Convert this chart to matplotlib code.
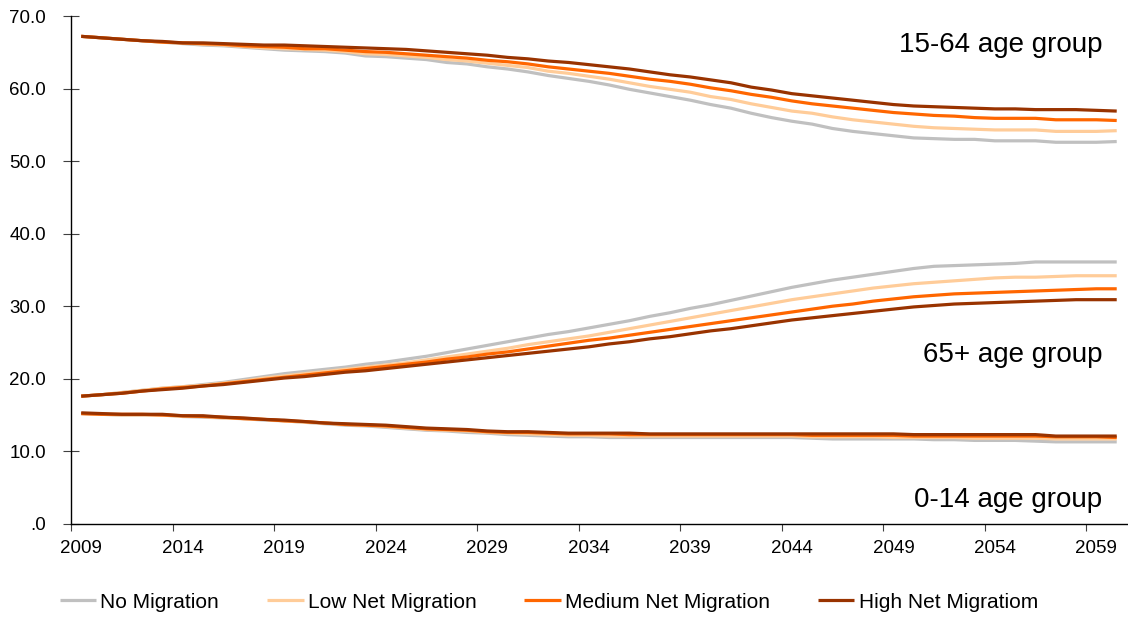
import numpy as np
import matplotlib
matplotlib.use('Agg')
import matplotlib.pyplot as plt
from matplotlib.ticker import FixedLocator, FuncFormatter

plt.rcParams['font.family'] = ['Liberation Sans', 'DejaVu Sans']

years = np.arange(2009, 2061)

scenarios = ['No Migration', 'Low Net Migration', 'Medium Net Migration', 'High Net Migratiom']
colors = ['#c0c0c0', '#ffcc99', '#ff6600', '#993300']

# 15-64 age group (% of population)
working_none = [67.2, 67.0, 66.8, 66.6, 66.4, 66.2, 66.0, 65.9, 65.7, 65.5,
                65.3, 65.2, 65.1, 64.9, 64.5, 64.4, 64.2, 64.0, 63.6, 63.4,
                63.0, 62.7, 62.3, 61.8, 61.4, 61.0, 60.5, 59.9, 59.4, 58.9,
                58.4, 57.8, 57.3, 56.6, 56.0, 55.5, 55.1, 54.5, 54.1, 53.8,
                53.5, 53.2, 53.1, 53.0, 53.0, 52.8, 52.8, 52.8, 52.6, 52.6,
                52.6, 52.7]
working_low = [67.2, 67.0, 66.8, 66.6, 66.4, 66.3, 66.1, 66.0, 65.8, 65.6,
               65.5, 65.4, 65.3, 65.1, 64.8, 64.7, 64.5, 64.3, 64.0, 63.8,
               63.5, 63.2, 62.9, 62.4, 62.1, 61.7, 61.3, 60.8, 60.3, 59.9,
               59.5, 58.9, 58.5, 57.9, 57.4, 56.9, 56.6, 56.1, 55.7, 55.4,
               55.1, 54.8, 54.6, 54.5, 54.4, 54.3, 54.3, 54.3, 54.1, 54.1,
               54.1, 54.2]
working_med = [67.2, 67.0, 66.8, 66.6, 66.4, 66.3, 66.2, 66.1, 65.9, 65.8,
               65.7, 65.5, 65.5, 65.3, 65.1, 65.0, 64.8, 64.6, 64.4, 64.2,
               63.9, 63.7, 63.4, 63.0, 62.7, 62.4, 62.1, 61.7, 61.3, 61.0,
               60.6, 60.1, 59.7, 59.2, 58.8, 58.3, 57.9, 57.6, 57.3, 57.0,
               56.7, 56.5, 56.3, 56.2, 56.0, 55.9, 55.9, 55.9, 55.7, 55.7,
               55.7, 55.6]
working_high = [67.2, 67.0, 66.8, 66.6, 66.5, 66.3, 66.3, 66.2, 66.1, 66.0,
                66.0, 65.9, 65.8, 65.7, 65.6, 65.5, 65.4, 65.2, 65.0, 64.8,
                64.6, 64.3, 64.1, 63.8, 63.6, 63.3, 63.0, 62.7, 62.3, 61.9,
                61.6, 61.2, 60.8, 60.2, 59.8, 59.3, 59.0, 58.7, 58.4, 58.1,
                57.8, 57.6, 57.5, 57.4, 57.3, 57.2, 57.2, 57.1, 57.1, 57.1,
                57.0, 56.9]

# 65+ age group
old_none = [17.6, 17.8, 18.1, 18.4, 18.7, 18.9, 19.2, 19.5, 19.9, 20.3,
            20.7, 21.0, 21.3, 21.6, 22.0, 22.3, 22.7, 23.1, 23.6, 24.1,
            24.6, 25.1, 25.6, 26.1, 26.5, 27.0, 27.5, 28.0, 28.6, 29.1,
            29.7, 30.2, 30.8, 31.4, 32.0, 32.6, 33.1, 33.6, 34.0, 34.4,
            34.8, 35.2, 35.5, 35.6, 35.7, 35.8, 35.9, 36.1, 36.1, 36.1,
            36.1, 36.1]
old_low = [17.6, 17.8, 18.1, 18.4, 18.7, 18.9, 19.1, 19.4, 19.7, 20.1,
           20.4, 20.7, 21.0, 21.3, 21.6, 21.9, 22.2, 22.6, 23.0, 23.4,
           23.8, 24.2, 24.7, 25.1, 25.5, 25.9, 26.4, 26.9, 27.4, 27.9,
           28.4, 28.9, 29.4, 29.9, 30.4, 30.9, 31.3, 31.7, 32.1, 32.5,
           32.8, 33.1, 33.3, 33.5, 33.7, 33.9, 34.0, 34.0, 34.1, 34.2,
           34.2, 34.2]
old_med = [17.6, 17.8, 18.0, 18.3, 18.6, 18.8, 19.0, 19.3, 19.6, 19.9,
           20.2, 20.5, 20.8, 21.1, 21.4, 21.7, 22.0, 22.3, 22.7, 23.0,
           23.4, 23.7, 24.1, 24.5, 24.9, 25.3, 25.6, 26.0, 26.4, 26.8,
           27.2, 27.6, 28.0, 28.4, 28.8, 29.2, 29.6, 30.0, 30.3, 30.7,
           31.0, 31.3, 31.5, 31.7, 31.8, 31.9, 32.0, 32.1, 32.2, 32.3,
           32.4, 32.4]
old_high = [17.6, 17.8, 18.0, 18.3, 18.5, 18.7, 19.0, 19.2, 19.5, 19.8,
            20.1, 20.3, 20.6, 20.9, 21.1, 21.4, 21.7, 22.0, 22.3, 22.6,
            22.9, 23.2, 23.5, 23.8, 24.1, 24.4, 24.8, 25.1, 25.5, 25.8,
            26.2, 26.6, 26.9, 27.3, 27.7, 28.1, 28.4, 28.7, 29.0, 29.3,
            29.6, 29.9, 30.1, 30.3, 30.4, 30.5, 30.6, 30.7, 30.8, 30.9,
            30.9, 30.9]

# 0-14 age group
young_none = [15.2, 15.1, 15.0, 15.0, 15.0, 14.8, 14.7, 14.6, 14.5, 14.3,
              14.2, 14.0, 13.8, 13.6, 13.5, 13.3, 13.1, 12.9, 12.8, 12.6,
              12.5, 12.3, 12.2, 12.1, 12.0, 12.0, 11.9, 11.9, 11.9, 11.9,
              11.9, 11.9, 11.9, 11.9, 11.9, 11.9, 11.8, 11.7, 11.7, 11.7,
              11.7, 11.7, 11.6, 11.6, 11.5, 11.5, 11.5, 11.4, 11.3, 11.3,
              11.3, 11.3]
young_low = [15.2, 15.1, 15.0, 15.0, 15.0, 14.8, 14.8, 14.6, 14.5, 14.4,
             14.2, 14.0, 13.9, 13.7, 13.6, 13.4, 13.2, 13.0, 12.9, 12.8,
             12.6, 12.5, 12.4, 12.3, 12.2, 12.2, 12.1, 12.1, 12.1, 12.1,
             12.1, 12.1, 12.1, 12.1, 12.1, 12.1, 12.0, 12.0, 12.0, 12.0,
             11.9, 11.9, 11.9, 11.9, 11.8, 11.8, 11.8, 11.8, 11.7, 11.7,
             11.7, 11.7]
young_med = [15.2, 15.1, 15.1, 15.1, 15.0, 14.9, 14.8, 14.7, 14.5, 14.4,
             14.2, 14.1, 13.9, 13.7, 13.6, 13.5, 13.3, 13.1, 13.0, 12.9,
             12.7, 12.6, 12.6, 12.5, 12.4, 12.4, 12.4, 12.3, 12.3, 12.3,
             12.3, 12.3, 12.3, 12.3, 12.3, 12.3, 12.2, 12.2, 12.2, 12.2,
             12.2, 12.1, 12.1, 12.1, 12.1, 12.1, 12.1, 12.1, 12.0, 12.0,
             12.0, 11.9]
young_high = [15.3, 15.2, 15.1, 15.1, 15.1, 14.9, 14.9, 14.7, 14.6, 14.4,
              14.3, 14.1, 13.9, 13.8, 13.7, 13.6, 13.4, 13.2, 13.1, 13.0,
              12.8, 12.7, 12.7, 12.6, 12.5, 12.5, 12.5, 12.5, 12.4, 12.4,
              12.4, 12.4, 12.4, 12.4, 12.4, 12.4, 12.4, 12.4, 12.4, 12.4,
              12.4, 12.3, 12.3, 12.3, 12.3, 12.3, 12.3, 12.3, 12.1, 12.1,
              12.1, 12.1]

groups = [
    ('15-64 age group', 66.0, [working_none, working_low, working_med, working_high]),
    ('65+ age group', 23.3, [old_none, old_low, old_med, old_high]),
    ('0-14 age group', 3.3, [young_none, young_low, young_med, young_high]),
]

fig = plt.figure(figsize=(11.28, 6.17), dpi=100)
ax = fig.add_axes([0.063, 0.151, 0.936, 0.823])

for label, ypos, series in groups:
    for vals, name, col in zip(series, scenarios, colors):
        ax.plot(years, vals, color=col, lw=2.3, label=name, solid_capstyle='butt')
    ax.text(2059.3, ypos, label, ha='right', va='center', fontsize=20)

ax.set_xlim(2008.5, 2060.5)
ax.set_ylim(0, 70)

for s in ['top', 'right']:
    ax.spines[s].set_visible(False)
for s in ['left', 'bottom']:
    ax.spines[s].set_color('black')
    ax.spines[s].set_linewidth(1.0)

# category-style x axis: ticks between years, labels on years
ax.xaxis.set_major_locator(FixedLocator(np.arange(2008.5, 2061, 5)))
ax.xaxis.set_minor_locator(FixedLocator(np.arange(2009, 2061, 5)))
ax.xaxis.set_major_formatter(FuncFormatter(lambda v, p: ''))
ax.xaxis.set_minor_formatter(FuncFormatter(lambda v, p: '%d' % round(v)))
ax.tick_params(axis='x', which='major', direction='out', length=5, color='#404040')
ax.tick_params(axis='x', which='minor', length=0, pad=12, labelsize=13.5)

ax.set_yticks(np.arange(0, 71, 10))
ax.yaxis.set_major_formatter(FuncFormatter(lambda v, p: '.0' if v == 0 else '%.1f' % v))
ax.tick_params(axis='y', direction='inout', length=12, color='#404040', pad=12, labelsize=13.5)

handles, labels = ax.get_legend_handles_labels()
fig.legend(handles[:4], labels[:4], loc='center left', bbox_to_anchor=(0.053, 0.024),
           ncol=4, frameon=False, fontsize=15, handlelength=1.75, handletextpad=0.2,
           columnspacing=2.3, borderpad=0, borderaxespad=0)

fig.savefig('out.png', dpi=100)
